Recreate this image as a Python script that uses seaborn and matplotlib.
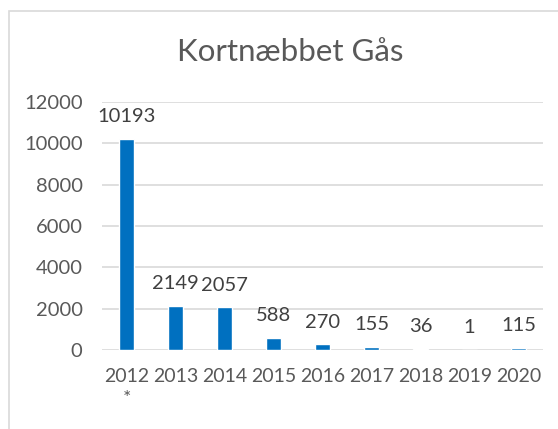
import pandas as pd
import matplotlib.pyplot as plt
import seaborn as sns
from matplotlib.patches import Rectangle

years = ['2012\n*', '2013', '2014', '2015', '2016', '2017', '2018', '2019', '2020']
counts = [10193, 2149, 2057, 588, 270, 155, 36, 1, 115]
y_ticks = [0, 2000, 4000, 6000, 8000, 10000, 12000]

sns.set_theme(style='white')
plt.rcParams['font.family'] = ['Lato', 'DejaVu Sans']

W, H = 558, 429


def main():
    fig = plt.figure(figsize=(W / 100, H / 100), dpi=100)
    ax = fig.add_axes([102 / W, (H - 350) / H, (543 - 102) / W, (350 - 102) / H])

    df = pd.DataFrame({'year': years, 'count': counts})
    sns.barplot(data=df, x='year', y='count', color='#0070C0', saturation=1,
                width=0.31, ax=ax)

    ax.set_ylim(0, 12000)
    ax.set_xlim(-0.5, len(years) - 0.5)
    ax.set_yticks(y_ticks)
    ax.set_yticklabels([str(t) for t in y_ticks])
    ax.set_xlabel('')
    ax.set_ylabel('')
    for s in ax.spines.values():
        s.set_visible(False)
    ax.yaxis.grid(True, color='#d9d9d9', linewidth=1.2)
    ax.set_axisbelow(True)
    ax.tick_params(axis='y', length=0, pad=14, labelsize=14.5, labelcolor='#595959')
    ax.tick_params(axis='x', length=0, pad=13, labelsize=14, labelcolor='#595959')
    for lbl in ax.get_xticklabels():
        lbl.set_linespacing(1.35)

    for i, v in enumerate(counts):
        ax.annotate(str(v), (i, v), xytext=(0, 10), textcoords='offset points',
                    ha='center', va='bottom', fontsize=14.5, color='#404040')

    fig.text(290 / W, 1 - 52 / H, 'Kortnæbbet Gås', ha='center', va='center',
             fontsize=22.5, color='#595959')

    fig.patches.append(Rectangle((9 / W, -0.1), 1.2, 1.1 - 11 / H,
                                 transform=fig.transFigure, fill=False,
                                 edgecolor='#d9d9d9', linewidth=1.2))

    fig.savefig('out.png', dpi=100)


if __name__ == '__main__':
    main()
